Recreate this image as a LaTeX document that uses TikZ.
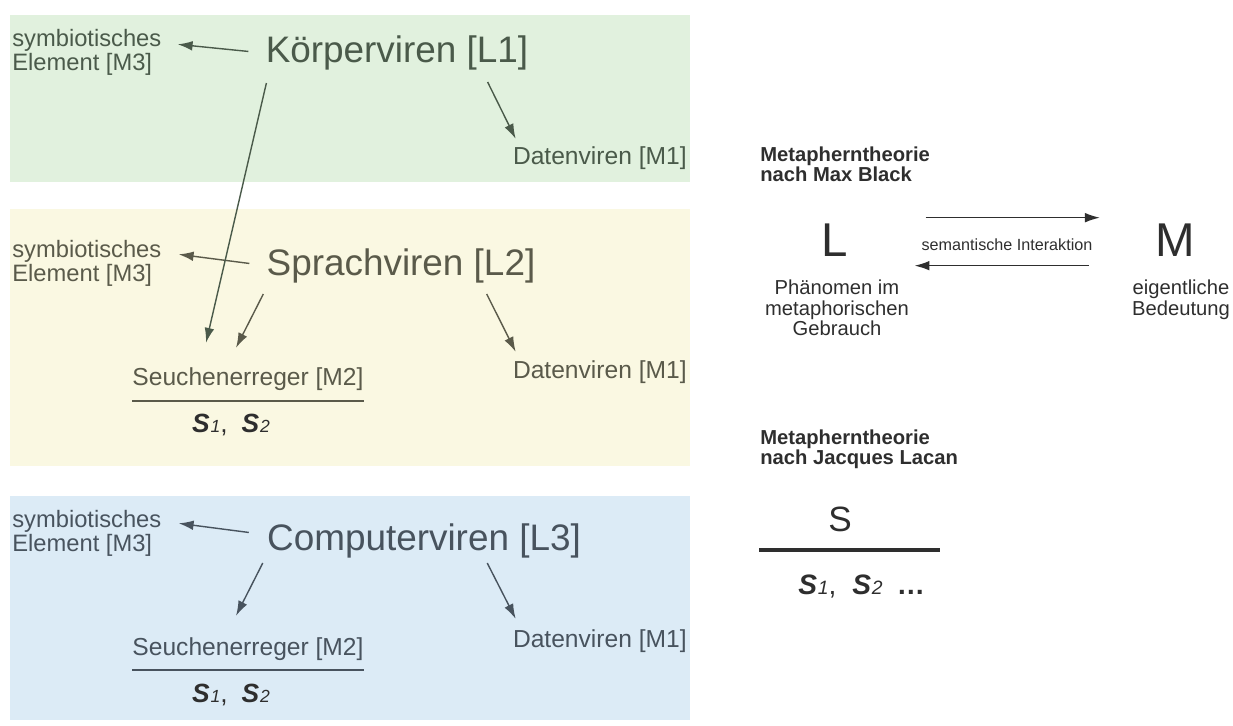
\documentclass[tikz,border=0pt]{standalone}
\usepackage{fontspec}
\setmainfont{Liberation Sans}
\usepackage{tikz}
\usetikzlibrary{arrows.meta,calc,positioning}
\tikzset{>={Latex[length=8.5pt,width=5.5pt]}}

\definecolor{bandgreen}{HTML}{E1F1DE}
\definecolor{bandyellow}{HTML}{FAF8E2}
\definecolor{bandblue}{HTML}{DCEBF6}
\definecolor{txtgreen}{HTML}{4A5A4A}
\definecolor{txtyellow}{HTML}{5A5A4A}
\definecolor{txtblue}{HTML}{48535E}
\definecolor{txtdark}{HTML}{2E2E2E}

\newcommand{\Sidx}[2][10]{\textbf{\textit{S}}\kern0.5pt{\itshape\fontsize{#1}{#1}\selectfont #2}}

\begin{document}
\begin{tikzpicture}[x=0.02cm,y=-0.02cm,
    bigname/.style={font=\fontsize{21}{25}\selectfont, inner sep=0pt, anchor=base},
    small/.style={font=\fontsize{14}{14}\selectfont, inner sep=0pt},
    symb/.style={font=\fontsize{13.5}{12.5}\selectfont, inner sep=0pt, align=left, anchor=north west},
    sidx/.style={font=\fontsize{15}{15}\selectfont, inner sep=0pt, anchor=base},
    arr/.style={->, line width=0.8pt},
    frac/.style={line width=0.8pt},
    head/.style={font=\fontsize{11.5}{11.3}\selectfont\bfseries, inner sep=0pt, align=left, anchor=north west, text=txtdark},
    letter/.style={font=\fontsize{27}{27}\selectfont, inner sep=0pt, anchor=base, text=txtdark},
    note/.style={font=\fontsize{11.5}{11.6}\selectfont, inner sep=0pt, align=center, anchor=north, text=txtdark}]
    \useasboundingbox (0,0) rectangle (1233,726);

    % bands
    \fill[bandgreen] (10,15) rectangle (690,182);
    \fill[bandyellow] (10,209) rectangle (690,466);
    \fill[bandblue] (10,496) rectangle (690,720);

    % L1
    \begin{scope}[txtgreen]
        \node[bigname] (k1) at (397,63) {Körperviren [L1]};
        \node[symb] (sym1) at (12,29) {symbiotisches\\Element [M3]};
        \node[small, anchor=base east] (dat1) at (687,165) {Datenviren [M1]};
        \draw[arr] ($(k1.west)+(-17,-2)$) -- ($(sym1.east)+(16,-8)$);
        \draw[arr] ($(k1.south east)+(-41,11)$) -- ($(dat1.north west)+(3,-8)$);
    \end{scope}

    % L2
    \begin{scope}[txtyellow]
        \node[bigname] (l2) at (401,275) {Sprachviren [L2]};
        \node[symb] (sym2) at (12,240) {symbiotisches\\Element [M3]};
        \node[small, anchor=base] (seu2) at (248,385) {Seuchenerreger [M2]};
        \node[small, anchor=base east] (dat2) at (687,378) {Datenviren [M1]};
        \node[sidx, txtdark] (s2) at (231,432) {\Sidx{1},\hspace{8pt}\Sidx{2}};
        \draw[frac] ($(seu2.base west)+(0,16)$) -- ($(seu2.base east)+(0,16)$);
        \draw[arr] ($(l2.west)+(-17,-2)$) -- ($(sym2.east)+(17,-9)$);
        \draw[arr] ($(l2.south west)+(-3,11)$) -- ($(seu2.north)+(-12,-19)$);
        \draw[arr] ($(l2.south east)+(-49,11)$) -- ($(dat2.north west)+(3,-8)$);
    \end{scope}
    \draw[arr, txtgreen] ($(k1.south west)+(1,12)$) -- ($(seu2.north)+(-42,-24)$);

    % L3
    \begin{scope}[txtblue]
        \node[bigname] (l3) at (424,550) {Computerviren [L3]};
        \node[symb] (sym3) at (12,510) {symbiotisches\\Element [M3]};
        \node[small, anchor=base] (seu3) at (248,655) {Seuchenerreger [M2]};
        \node[small, anchor=base east] (dat3) at (687,647) {Datenviren [M1]};
        \node[sidx, txtdark] (s3) at (231,702) {\Sidx{1},\hspace{8pt}\Sidx{2}};
        \draw[frac] ($(seu3.base west)+(0,15)$) -- ($(seu3.base east)+(0,15)$);
        \draw[arr] ($(l3.west)+(-18,-8)$) -- ($(sym3.east)+(17,-10)$);
        \draw[arr] ($(l3.south west)+(-4,5)$) -- ($(seu3.north)+(-12,-21)$);
        \draw[arr] ($(l3.south east)+(-94,5)$) -- ($(dat3.north west)+(3,-10)$);
    \end{scope}

    % Max Black
    \node[head] (black) at (760,147) {Metapherntheorie\\nach Max Black};
    \node[letter] (L) at (835,256) {L};
    \node[letter] (M) at (1175,256) {M};
    \node[font=\fontsize{9.2}{9.2}\selectfont, inner sep=0pt, anchor=base, text=txtdark] (sem) at (1007,250) {semantische Interaktion};
    \node[note] (phen) at (837,280) {Phänomen im\\metaphorischen\\Gebrauch};
    \node[note] (eig) at (1181,280) {eigentliche\\Bedeutung};
    \draw[arr, txtdark] ($(L.east)+(77,-22)$) -- ($(M.west)+(-55,-22)$);
    \draw[arr, txtdark] ($(M.west)+(-66,26)$) -- ($(L.east)+(66,26)$);

    % Lacan
    \node[head] (lacan) at (760,430) {Metapherntheorie\\nach Jacques Lacan};
    \node[font=\fontsize{20}{20}\selectfont, inner sep=0pt, anchor=base, text=txtdark] (S) at (840,531) {S};
    \draw[line width=1.8pt, txtdark] ($(S.base)+(-81,19)$) -- ($(S.base)+(100,19)$);
    \node[font=\fontsize{16}{16}\selectfont, inner sep=0pt, anchor=base west, text=txtdark] (slist) at (798,594) {\Sidx[11]{1},\hspace{9pt}\Sidx[11]{2}\hspace{8pt}\textbf{\dots}};
\end{tikzpicture}
\end{document}
